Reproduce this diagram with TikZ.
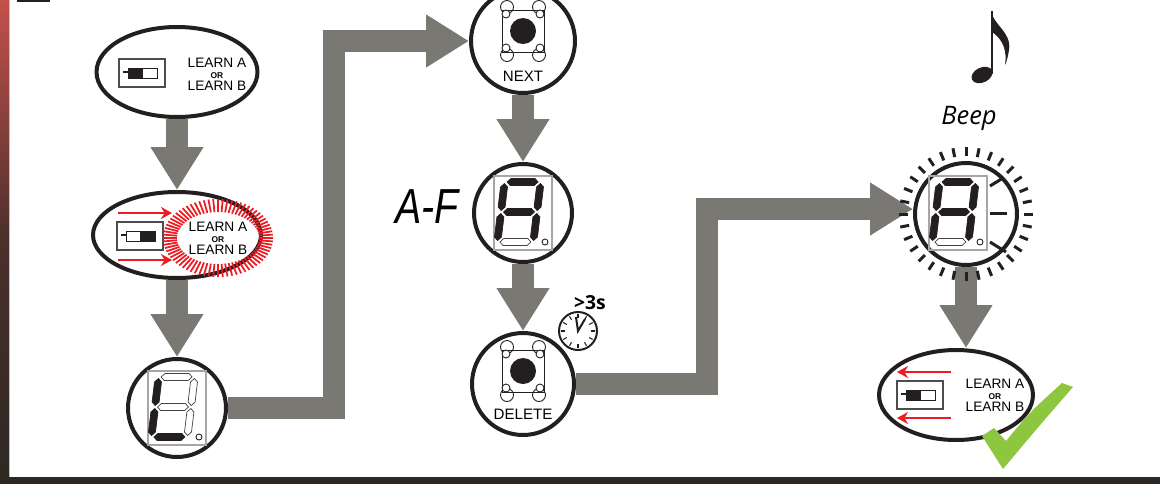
\documentclass[tikz,border=0pt]{standalone}
\usepackage{fontspec}
\setmainfont{Liberation Sans}
\newfontfamily\opensans{Open Sans}
\newfontfamily\segfont{Liberation Sans}[FakeStretch=0.8]
\usetikzlibrary{shapes.geometric,arrows.meta,calc}

\definecolor{ink}{HTML}{231F20}
\definecolor{flowgray}{HTML}{7A7873}
\definecolor{warnred}{HTML}{ED1C24}
\definecolor{okgreen}{HTML}{8DC63F}
\definecolor{barred}{HTML}{C4514D}
\definecolor{bardark}{HTML}{2E2823}

\tikzset{
  state/.style={draw=ink, line width=0.08cm, fill=white, inner sep=0pt},
  oval/.style={state, ellipse},
  dial/.style={state, circle, minimum size=#1},
  dial/.default=1.96cm,
  flow/.style={draw=flowgray, line width=0.44cm, -{Triangle[length=0.86cm,width=1cm]}},
  learn/.style={align=center, font=\fontsize{7.8}{6.6}\selectfont, inner sep=0pt},
  btnlabel/.style={font=\fontsize{8.6}{9}\selectfont, inner sep=0pt},
  segon/.style={fill=ink, draw=ink, line width=0.4pt},
  segoff/.style={fill=white, draw=ink!85, line width=0.4pt},
  redarrow/.style={draw=warnred, line width=0.05cm, -{Stealth[length=0.22cm,width=0.24cm]}},
  tick/.style={draw=ink, line width=0.06cm},
}

% one segment of a seven segment digit
\newcommand{\segh}[3]{\path[#3] (#1-15.5,#2) -- ++(3.5,-3.5) -- ++(24,0) -- ++(3.5,3.5) -- ++(-3.5,3.5) -- ++(-24,0) -- cycle;}
\newcommand{\segv}[3]{\path[#3] (#1,#2-13.5) -- ++(3.5,3.5) -- ++(0,20) -- ++(-3.5,3.5) -- ++(-3.5,-3.5) -- ++(0,-20) -- cycle;}
\newcommand{\display}[8]{%
  \begin{scope}[shift={(#1)}]
    \draw[gray!70, line width=0.6pt] (-29,-37) rectangle (29,37);
    \draw[ink, line width=0.5pt, fill=white] (22,29) circle [radius=3];
    \begin{scope}[shift={(-4,-1)}, xslant=0.12]
      \segh{0}{-30}{#2} \segv{18}{-15}{#3} \segv{18}{15}{#4} \segh{0}{30}{#5}
      \segv{-18}{15}{#6} \segv{-18}{-15}{#7} \segh{0}{0}{#8}
    \end{scope}
  \end{scope}}
\newcommand{\pushbtn}[1]{%
  \begin{scope}[shift={(#1)}]
    \draw[ink, line width=0.5pt, fill=white] (-21,-21) rectangle (21,21);
    \foreach \sx in {-1,1} \foreach \sy in {-1,1} {
      \draw[ink, line width=0.5pt] (16*\sx,24*\sy) circle [radius=6.5];
      \draw[ink, line width=0.5pt, fill=white] (17*\sx,17*\sy) circle [radius=4];
    }
    \fill[ink] (0,0) circle [radius=13];
  \end{scope}}
\newcommand{\switchicon}[3]{%
  \begin{scope}[shift={(#1)}]
    \draw[ink!80, line width=0.6pt, fill=white] (-23,-14) rectangle (23,14);
    \draw[ink, line width=0.5pt, fill=#2] (-14,-5) rectangle (0,5);
    \draw[ink, line width=0.5pt, fill=#3] (0,-5) rectangle (15,5);
    \draw[ink, line width=0.8pt] (-14,-1) -- (-19,-1);
  \end{scope}}

\begin{document}
\begin{tikzpicture}[x=0.02cm,y=-0.02cm]
  \useasboundingbox (0,0) rectangle (1160,484);

  \shade[top color=barred, bottom color=bardark, middle color=bardark!80!barred] (0,0) rectangle (9,477);
  \draw[gray!50, line width=0.02cm] (9.5,0) -- (9.5,477);
  \fill[bardark] (0,477) rectangle (1160,484);
  \fill[ink] (17,0) rectangle (50,2);

  \node[oval, minimum width=3.22cm, minimum height=1.8cm] (e1) at (177,72) {};
  \node[oval, minimum width=3.36cm, minimum height=1.72cm] (e2) at (177,235) {};
  \node[dial] (d1) at (177,408) {};
  \node[dial=2.08cm] (next) at (523,41) {};
  \node[dial] (da) at (523,213) {};
  \node[dial=2.04cm] (del) at (523,384) {};
  \node[dial=2.04cm] (da2) at (966,214) {};
  \node[oval, minimum width=3.08cm, minimum height=1.8cm] (e3) at (956,395) {};

  \coordinate (k1) at (334,41);
  \coordinate (k2) at (707,209);
  \draw[flow] (e1) -- (e2);
  \draw[flow] (e2) -- (d1);
  \draw[flow] (d1) -| (k1) -- (next);
  \draw[flow] (next) -- (da);
  \draw[flow] (da) -- (del);
  \draw[flow] (del) -| (k2) -- (k2 -| da2.west);
  \draw[flow] (da2) -- (da2 |- e3.north);

  \switchicon{$(e1)+(-35,1)$}{ink}{white}
  \node[learn] (t1) at ($(e1)+(40,2)$) {LEARN A\\{\fontsize{4.8}{5}\selectfont\bfseries OR}\\LEARN B};

  \switchicon{$(e2)+(-37,1)$}{white}{ink}
  \node[learn] (t2) at ($(e2)+(41,3)$) {LEARN A\\{\fontsize{4.8}{5}\selectfont\bfseries OR}\\LEARN B};
  \foreach \a in {0,5,...,355}
    \draw[warnred, line width=0.035cm] ($(t2)+({41*cos(\a)},{26*sin(\a)})$) -- ($(t2)+({55*cos(\a)},{39*sin(\a)})$);
  \draw[redarrow] ($(e2)+(-59,-22)$) -- ($(e2)+(-5,-22)$);
  \draw[redarrow] ($(e2)+(-59,25)$) -- ($(e2)+(-5,25)$);

  \display{d1}{segoff}{segoff}{segoff}{segon}{segon}{segon}{segoff}

  \pushbtn{$(next)+(0,-10)$}
  \node[btnlabel] (nexttxt) at ($(next)+(0,35)$) {NEXT};

  \display{da}{segon}{segon}{segon}{segoff}{segon}{segon}{segon}
  \node[font=\segfont\itshape\fontsize{28}{30}\selectfont, inner sep=0pt] (range) at ($(da)+(-96,-6)$) {A-F};

  \pushbtn{$(del)+(0,-13)$}
  \node[btnlabel] (deltxt) at ($(del)+(0,30)$) {DELETE};
  \node[circle, draw=ink, line width=0.04cm, fill=white, minimum size=0.76cm, inner sep=0pt] (clock) at ($(del)+(55,-53)$) {};
  \foreach \a in {0,30,...,330}
    \draw[ink, line width=0.6pt] ($(clock)+(\a:13)$) -- ($(clock)+(\a:17)$);
  \draw[ink, line width=0.04cm] ($(clock)+(-2,-14)$) -- (clock.center) -- ($(clock)+(7,-12)$);
  \node[font=\opensans\bfseries\fontsize{11}{12}\selectfont, inner sep=0pt] (delay) at ($(clock)+(12,-28)$) {>3s};

  \display{$(da2)+(-8,-1)$}{segon}{segon}{segon}{segoff}{segon}{segon}{segon}
  \foreach \a in {0,11.25,...,350}
    \draw[tick] ($(da2)+(\a:58)$) -- ($(da2)+(\a:67)$);
  \draw[tick] ($(da2)+(24,-1)$) -- ($(da2)+(41,-1)$);
  \draw[tick] ($(da2)+(24,-28)$) -- ($(da2)+(37,-36)$);
  \draw[tick] ($(da2)+(24,28)$) -- ($(da2)+(40,38)$);

  \node[font=\opensans\itshape\fontsize{14.5}{16}\selectfont, inner sep=0pt] (beep) at (969,118) {Beep};
  \fill[ink, rotate around={25:(982,75)}] (982,75) ellipse [x radius=11, y radius=7.5];
  \draw[ink, line width=0.035cm] (992,74) -- (992,11);
  \fill[ink] (991.5,11) .. controls (992,24) and (1012,32) .. (1009,50) .. controls (1008,56) and (1007,61) .. (1005,65) .. controls (1007,52) and (1004,40) .. (992,32) -- cycle;

  \switchicon{$(e3)+(-36,0)$}{ink}{white}
  \node[learn] (t3) at ($(e3)+(39,0)$) {LEARN A\\{\fontsize{4.8}{5}\selectfont\bfseries OR}\\LEARN B};
  \draw[redarrow] ($(e3)+(-5,-23)$) -- ($(e3)+(-59,-23)$);
  \draw[redarrow] ($(e3)+(-5,23)$) -- ($(e3)+(-59,23)$);

  \fill[okgreen] (982,436) -- (994,428) -- (1006,441) .. controls (1030,412) .. (1062,383) -- (1073,387) .. controls (1040,425) .. (1003,469) -- cycle;
\end{tikzpicture}
\end{document}
